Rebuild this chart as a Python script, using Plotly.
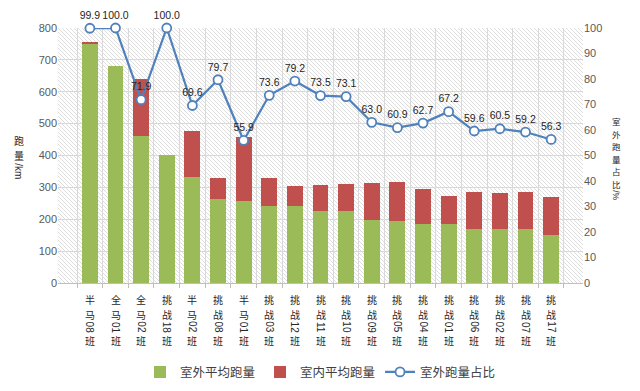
import re
import plotly.graph_objects as go

categories = ["半马08班", "全马01班", "全马02班", "挑战18班", "半马02班", "挑战08班", "半马01班",
              "挑战03班", "挑战12班", "挑战11班", "挑战10班", "挑战09班", "挑战05班", "挑战04班",
              "挑战01班", "挑战06班", "挑战02班", "挑战07班", "挑战17班"]
outdoor_avg = [752, 682, 460, 402, 332, 263, 256, 243, 242, 227, 227, 197, 194, 185, 184, 169, 170, 168, 152]
indoor_avg = [1, 0, 180, 0, 145, 67, 202, 87, 63, 82, 84, 117, 124, 110, 90, 115, 111, 116, 117]
outdoor_pct = [99.9, 100.0, 71.9, 100.0, 69.6, 79.7, 55.9, 73.6, 79.2, 73.5, 73.1, 63.0, 60.9, 62.7,
               67.2, 59.6, 60.5, 59.2, 56.3]

left_ticks = [0, 100, 200, 300, 400, 500, 600, 700, 800]
right_ticks = [0, 10, 20, 30, 40, 50, 60, 70, 80, 90, 100]
left_title = "跑量/km"
right_title = "室外跑量占比/%"

GREEN = "#9BBB59"
RED = "#C0504D"
BLUE = "#4F81BD"
TICK = "#595959"
DARK = "#262626"
CJK = "Noto Sans CJK SC"
LAT = "Liberation Sans, Arial, sans-serif"


def vertical_text(label, xref, x, top_px, fs, color=DARK, xanchor="center"):
    """Excel-like vertical text: CJK characters upright and stacked, latin runs rotated.
    top_px is the distance in pixels above the plot bottom (negative = below)."""
    parts = re.findall(r"[A-Za-z0-9/%]+|.", label)
    anns = []
    cur = top_px
    for p in parts:
        if re.match(r"[A-Za-z0-9/%]", p):
            h = 0.56 * fs * len(p) + 1
            anns.append(dict(text=p, xref=xref, yref="paper", x=x, y=0, yshift=cur - h / 2,
                             textangle=90, showarrow=False, xanchor=xanchor, yanchor="middle",
                             font=dict(size=fs, color=color, family=LAT)))
        else:
            h = 1.47 * fs
            anns.append(dict(text=p, xref=xref, yref="paper", x=x, y=0, yshift=cur - h / 2,
                             showarrow=False, xanchor=xanchor, yanchor="middle",
                             font=dict(size=fs, color=color, family=CJK)))
        cur -= h
    return anns


annotations = []
for c in categories:
    annotations += vertical_text(c, "x", c, -9, 10)
annotations += vertical_text(left_title, "paper", -0.074, 150, 10)
annotations += vertical_text(right_title, "paper", 1.063, 168, 8.5)

fig = go.Figure()
fig.add_trace(go.Bar(x=categories, y=outdoor_avg, name="室外平均跑量", marker=dict(color=GREEN, line=dict(width=0))))
fig.add_trace(go.Bar(x=categories, y=indoor_avg, name="室内平均跑量", marker=dict(color=RED, line=dict(width=0))))
fig.add_trace(go.Scatter(
    x=categories, y=outdoor_pct, name="室外跑量占比", yaxis="y2",
    mode="lines+markers+text",
    line=dict(color=BLUE, width=2.2),
    marker=dict(symbol="circle", size=9, color="white", line=dict(color=BLUE, width=1.8)),
    text=[f"{v:.1f}" for v in outdoor_pct], textposition="top center",
    textfont=dict(size=10.5, color=DARK, family=LAT),
    cliponaxis=False,
))

svg = ("data:image/svg+xml;utf8,"
       "<svg xmlns='http://www.w3.org/2000/svg' width='525' height='255' viewBox='0 0 525 255' preserveAspectRatio='none'>"
       "<defs><pattern id='p' width='4' height='4' patternUnits='userSpaceOnUse'>"
       "<path d='M-1,-1 L5,5 M-1,3 L1,5 M3,-1 L5,1' stroke='%23d6d6d6' stroke-width='0.8'/></pattern></defs>"
       "<rect width='525' height='255' fill='url(%23p)'/></svg>")

# the page body has an 8px margin, so the figure is drawn 8px in from the window edge
fig.update_layout(
    width=632, height=383,
    margin=dict(l=50, r=57, t=20, b=108, autoexpand=False),
    paper_bgcolor="white", plot_bgcolor="rgba(0,0,0,0)",
    barmode="stack", bargap=0.38,
    font=dict(family=CJK, size=11, color=TICK),
    showlegend=True,
    legend=dict(orientation="h", x=0.5, xanchor="center", y=-0.35, yanchor="middle",
                font=dict(size=12.5, color="#404040", family=CJK), traceorder="normal"),
    images=[dict(source=svg, xref="paper", yref="paper", x=0, y=1, sizex=1, sizey=1,
                 sizing="stretch", layer="below", xanchor="left", yanchor="top")],
    xaxis=dict(type="category", showticklabels=False, automargin=False,
               tickson="boundaries", ticks="outside", ticklen=4, tickcolor="#BFBFBF",
               showgrid=True, gridcolor="#D9D9D9", gridwidth=1,
               showline=True, linecolor="#BFBFBF", linewidth=1),
    yaxis=dict(range=[0, 800], tickvals=left_ticks, showgrid=True, gridcolor="#D9D9D9",
               automargin=False, zeroline=False, showline=False, ticks="",
               tickfont=dict(size=11, color=TICK, family=LAT)),
    yaxis2=dict(range=[0, 100], tickvals=right_ticks, overlaying="y", side="right", showgrid=False,
                automargin=False, zeroline=False, showline=False, ticks="",
                tickfont=dict(size=11, color=TICK, family=LAT)),
    annotations=annotations,
)

fig.write_html("out.html")
